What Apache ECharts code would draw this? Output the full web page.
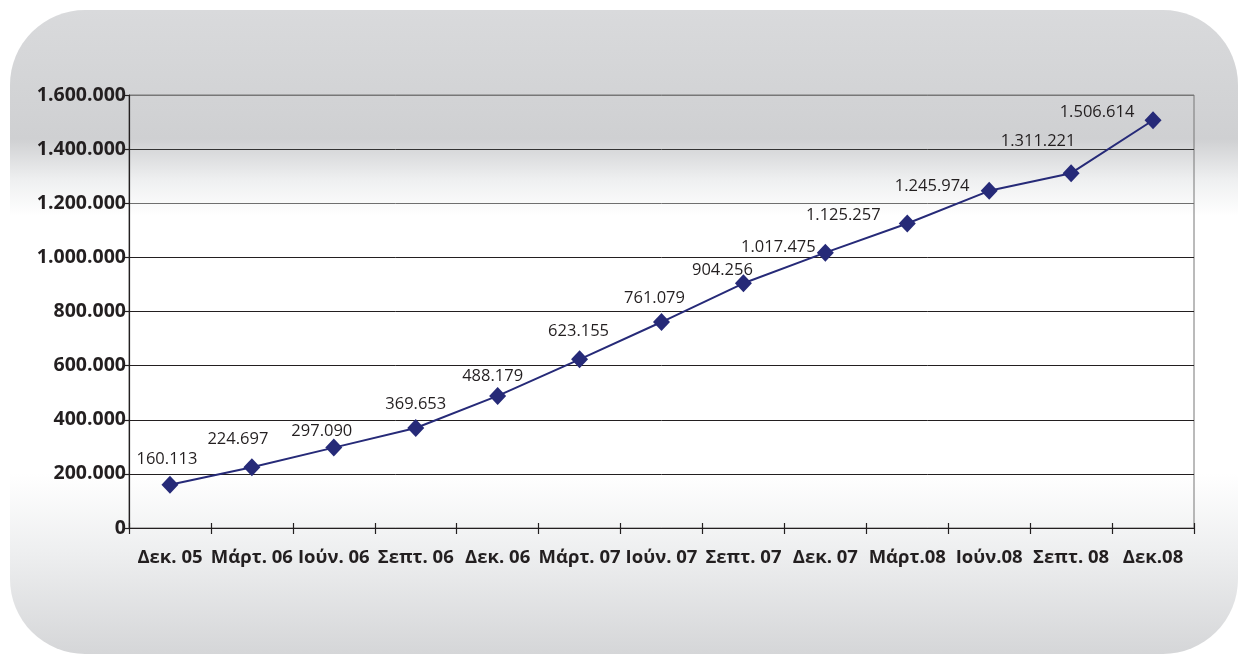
<!DOCTYPE html>
<html>
<head>
<meta charset="utf-8">
<script src="https://cdn.jsdelivr.net/npm/echarts@6/dist/echarts.min.js"></script>
<style>
  html, body { margin: 0; padding: 0; background: #ffffff; }
  #chart { width: 1240px; height: 655px; }
</style>
</head>
<body>
<div id="chart"></div>
<script>
// ---- data ----
const categories = ['Δεκ. 05', 'Μάρτ. 06', 'Ιούν. 06', 'Σεπτ. 06', 'Δεκ. 06', 'Μάρτ. 07', 'Ιούν. 07', 'Σεπτ. 07', 'Δεκ. 07', 'Μάρτ.08', 'Ιούν.08', 'Σεπτ. 08', 'Δεκ.08'];
const values = [160113, 224697, 297090, 369653, 488179, 623155, 761079, 904256, 1017475, 1125257, 1245974, 1311221, 1506614];
const yTicks = [0, 200000, 400000, 600000, 800000, 1000000, 1200000, 1400000, 1600000];

// ---- label placement (style only) ----
const labelShift = [[-3, -3], [-14, -5], [-12, 6], [0, -1], [-5, 3], [-1, -6], [-7, -1], [-21, 10], [-47, 17], [-64, 14], [-57, 18], [-33, -9], [-56, 15]];

function fmt(v) {
  return String(v).replace(/\B(?=(\d{3})+(?!\d))/g, '.');
}

const chart = echarts.init(document.getElementById('chart'), null, { renderer: 'canvas' });
const FONT = "'Open Sans', 'DejaVu Sans', sans-serif";

const option = {
  animation: false,
  backgroundColor: '#ffffff',
  graphic: [{
    type: 'rect',
    z: -100,
    silent: true,
    shape: { x: 10, y: 10, width: 1228, height: 644, r: 75 },
    style: {
      fill: {
        type: 'linear', x: 0, y: 0, x2: 0, y2: 1,
        colorStops: [
          { offset: 0, color: '#d9dadc' },
          { offset: 0.2, color: '#cfd0d2' },
          { offset: 0.265, color: '#eff0f1' },
          { offset: 0.32, color: '#ffffff' },
          { offset: 0.72, color: '#ffffff' },
          { offset: 0.84, color: '#eeeff0' },
          { offset: 1, color: '#d5d6d8' }
        ]
      }
    }
  }],
  grid: {
    left: 129, right: 46, top: 95, bottom: 127,
    show: true, borderColor: '#777777', borderWidth: 1, backgroundColor: 'transparent'
  },
  xAxis: [{
    type: 'category',
    data: categories,
    boundaryGap: true,
    axisLine: { show: true, lineStyle: { color: '#231f20', width: 1.2 } },
    axisTick: { show: true, length: 6, alignWithLabel: false, lineStyle: { color: '#231f20', width: 1.2 } },
    axisLabel: {
      color: '#231f20', fontFamily: FONT, fontWeight: 'bold', fontSize: 18.5,
      margin: 20, interval: 0
    },
    splitLine: { show: false }
  }, {
    type: 'category',
    data: categories,
    position: 'bottom',
    boundaryGap: true,
    axisLine: { show: false },
    axisTick: { show: true, inside: true, length: 5, lineStyle: { color: '#231f20', width: 1.2 } },
    axisLabel: { show: false },
    splitLine: { show: false }
  }],
  yAxis: {
    type: 'value',
    min: yTicks[0],
    max: yTicks[yTicks.length - 1],
    interval: yTicks[1] - yTicks[0],
    axisLine: { show: true, lineStyle: { color: '#231f20', width: 1.2 } },
    axisTick: { show: true, length: 6, lineStyle: { color: '#231f20', width: 1.2 } },
    axisLabel: {
      color: '#231f20', fontFamily: FONT, fontWeight: 'bold', fontSize: 19.5,
      margin: 3,
      formatter: function (v) { return fmt(v); }
    },
    splitLine: {
      show: true,
      lineStyle: {
        color: ['#231f20', '#231f20', '#231f20', '#231f20', '#231f20', '#231f20', '#6f6f6f', '#333333', '#777777'],
        width: 1
      }
    }
  },
  series: [{
    type: 'line',
    data: values.map(function (v, i) {
      return {
        value: v,
        label: { offset: labelShift[i] }
      };
    }),
    symbol: 'diamond',
    symbolSize: [17, 18],
    showAllSymbol: true,
    lineStyle: { color: '#262a78', width: 2 },
    itemStyle: { color: '#262a78', borderWidth: 0 },
    label: {
      show: true,
      position: 'top',
      distance: 5,
      color: '#231f20',
      fontFamily: FONT,
      fontSize: 16.5,
      formatter: function (p) { return fmt(p.value); }
    },
    z: 5
  }]
};

chart.setOption(option);
</script>
</body>
</html>
